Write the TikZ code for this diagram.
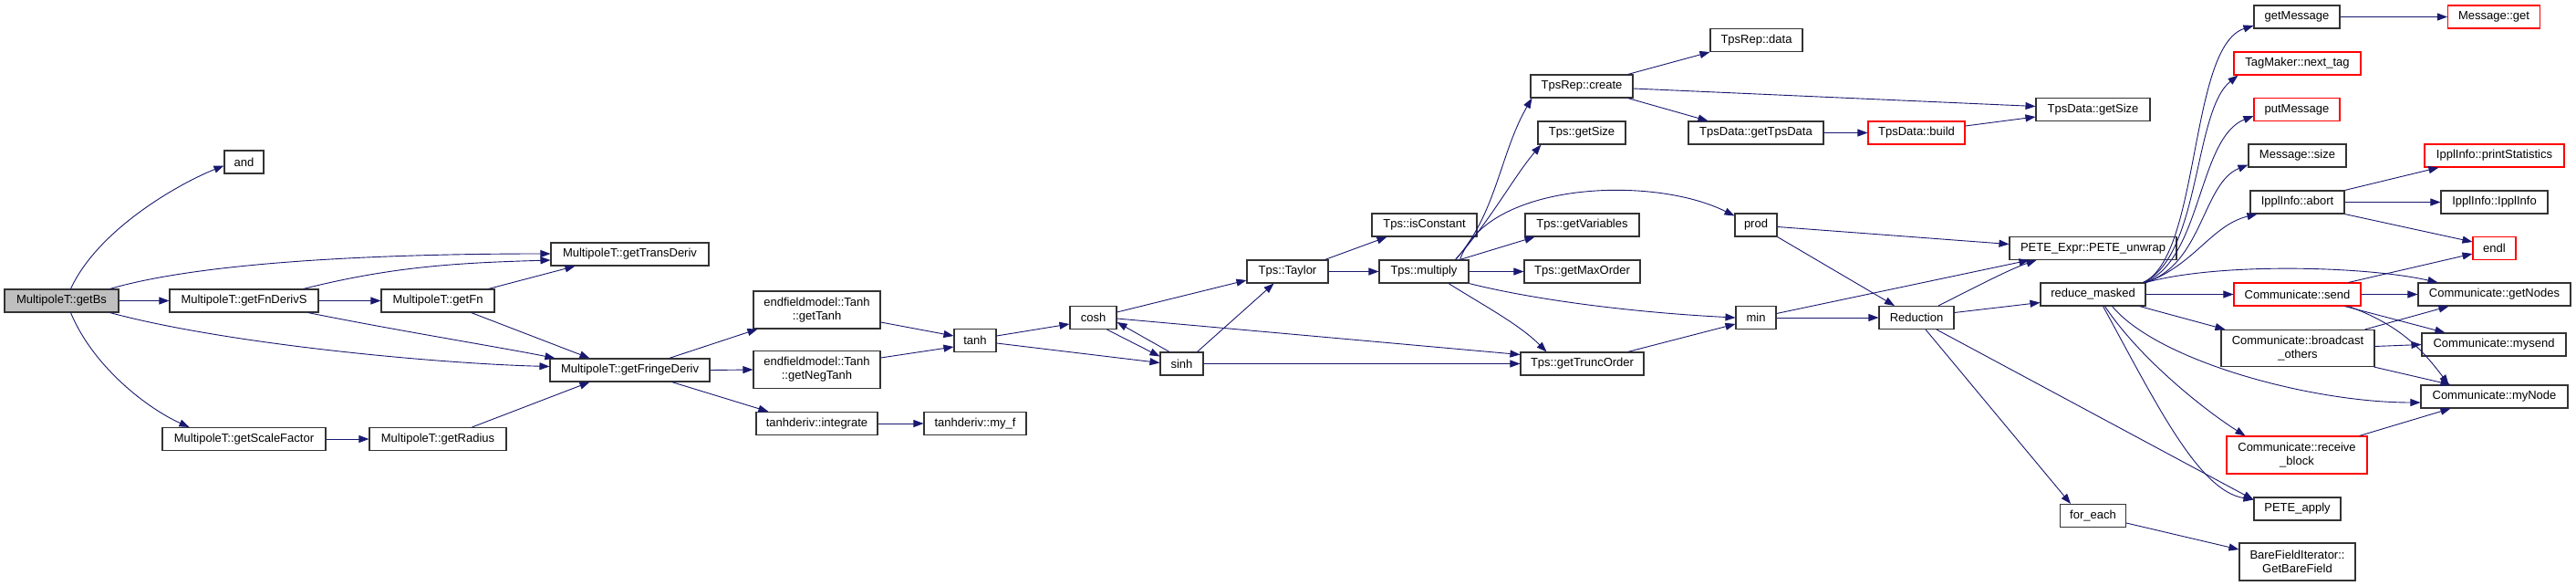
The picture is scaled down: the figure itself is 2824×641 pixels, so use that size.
\documentclass[tikz,border=0pt]{standalone}
\usepackage{fontspec}
\setmainfont{Liberation Sans}
\usetikzlibrary{arrows.meta}
\definecolor{edgec}{HTML}{191970}
\definecolor{rootfill}{HTML}{BFBFBF}
\begin{document}
\begin{tikzpicture}[x=1pt,y=1pt,
  nd/.style={draw=black!80, line width=1.1pt, fill=white, rectangle, inner sep=0pt,
    minimum height=25pt, font=\fontsize{13}{15}\selectfont, align=center},
  rednd/.style={nd, draw=red},
  tall/.style={minimum height=41pt},
  edge/.style={draw=edgec, line width=0.9pt, -{Triangle[length=11pt,width=8pt]}},
]
\fill[white] (0,0) rectangle (2824,641);
\useasboundingbox (0,0) rectangle (2824,641);

% nodes
\node[nd, fill=rootfill, minimum width=125pt] (getBs) at (67.5,311.5) {MultipoleT::getBs};
\node[nd, minimum width=43pt] (and) at (267.5,463.5) {and};
\node[nd, minimum width=163pt] (fnderivs) at (267.5,311.5) {MultipoleT::getFnDerivS};
\node[nd, minimum width=124pt] (getfn) at (480,311.5) {MultipoleT::getFn};
\node[nd, minimum width=179pt] (scalefactor) at (267.5,160) {MultipoleT::getScaleFactor};
\node[nd, minimum width=150pt] (radius) at (480,160) {MultipoleT::getRadius};
\node[nd, minimum width=173pt] (transderiv) at (690.5,362.5) {MultipoleT::getTransDeriv};
\node[nd, minimum width=175pt] (fringederiv) at (690.5,235.5) {MultipoleT::getFringeDeriv};
\node[nd, tall, minimum width=139pt] (gettanh) at (895.5,301.5) {endfieldmodel::Tanh\\::getTanh};
\node[nd, tall, minimum width=139pt] (getnegtanh) at (895.5,236) {endfieldmodel::Tanh\\::getNegTanh};
\node[nd, minimum width=133pt] (integrate) at (895.5,177) {tanhderiv::integrate};
\node[nd, minimum width=46pt] (tanh) at (1069,268) {tanh};
\node[nd, minimum width=112pt] (myf) at (1069,177) {tanhderiv::my\_f};
\node[nd, minimum width=51pt] (cosh) at (1198.5,293) {cosh};
\node[nd, minimum width=47pt] (sinh) at (1295.5,242.5) {sinh};
\node[nd, minimum width=89pt] (taylor) at (1411.5,343.5) {Tps::Taylor};
\node[nd, minimum width=115pt] (isconst) at (1561.5,394.5) {Tps::isConstant};
\node[nd, minimum width=98pt] (multiply) at (1561,343.5) {Tps::multiply};
\node[nd, minimum width=101pt] (repdata) at (1925.5,597) {TpsRep::data};
\node[nd, minimum width=112pt] (repcreate) at (1734,546.5) {TpsRep::create};
\node[nd, minimum width=96pt] (tpsgetsize) at (1734,495.5) {Tps::getSize};
\node[nd, minimum width=148pt] (gettpsdata) at (1925,495.5) {TpsData::getTpsData};
\node[rednd, minimum width=106pt] (build) at (2101,495.5) {TpsData::build};
\node[nd, minimum width=46pt] (prod) at (1925,394.5) {prod};
\node[nd, minimum width=125pt] (getvars) at (1734.5,394.5) {Tps::getVariables};
\node[nd, minimum width=127pt] (getmaxorder) at (1734.5,343.5) {Tps::getMaxOrder};
\node[nd, minimum width=44pt] (min) at (1925,293) {min};
\node[nd, minimum width=82pt] (reduction) at (2101,293) {Reduction};
\node[nd, minimum width=135pt] (gettruncorder) at (1734.5,242.5) {Tps::getTruncOrder};
\node[nd, minimum width=125pt] (tpsdatagetsize) at (2294.5,521) {TpsData::getSize};
\node[nd, minimum width=183pt] (peteunwrap) at (2294.5,369) {PETE\_Expr::PETE\_unwrap};
\node[nd, minimum width=115pt] (reducemasked) at (2294.5,318.5) {reduce\_masked};
\node[nd, minimum width=72pt] (foreach) at (2294.5,76) {for\_each};
\node[nd, minimum width=94pt] (getmessage) at (2518,622.5) {getMessage};
\node[rednd, minimum width=139pt] (nexttag) at (2518.5,571.5) {TagMaker::next\_tag};
\node[rednd, minimum width=94pt] (putmessage) at (2518,521) {putMessage};
\node[nd, minimum width=107pt] (messagesize) at (2518.5,470.5) {Message::size};
\node[nd, minimum width=103pt] (abort) at (2518.5,419.5) {IpplInfo::abort};
\node[rednd, minimum width=139pt] (send) at (2518.5,318.5) {Communicate::send};
\node[nd, tall, minimum width=168pt, minimum height=40pt] (broadcast) at (2519,259.5) {Communicate::broadcast\\\_others};
\node[rednd, tall, minimum width=154pt] (receiveblock) at (2518,142.5) {Communicate::receive\\\_block};
\node[nd, minimum width=95pt] (peteapply) at (2518.5,83.5) {PETE\_apply};
\node[nd, tall, minimum width=127pt] (getbarefield) at (2518.5,25.5) {BareFieldIterator::\\GetBareField};
\node[rednd, minimum width=101pt] (messageget) at (2734,622.5) {Message::get};
\node[rednd, minimum width=153pt] (printstats) at (2734.5,470.5) {IpplInfo::printStatistics};
\node[nd, minimum width=117pt] (ipplinfo) at (2734.5,419.5) {IpplInfo::IpplInfo};
\node[rednd, minimum width=47pt] (endl) at (2734.5,369) {endl};
\node[nd, minimum width=167pt] (getnodes) at (2734.5,318.5) {Communicate::getNodes};
\node[nd, minimum width=158pt] (mysend) at (2734,263.5) {Communicate::mysend};
\node[nd, minimum width=161pt] (mynode) at (2734.5,206.5) {Communicate::myNode};

% edges from getBs
\draw[edge] ([xshift=10pt]getBs.north) .. controls +(30,65) and +(-50,-20) .. ([yshift=-4pt]and.west);
\draw[edge] ([xshift=-10pt]getBs.north east) .. controls +(120,35) and +(-120,0) .. ([yshift=0.5pt]transderiv.west);
\draw[edge] (getBs) -- (fnderivs);
\draw[edge] ([xshift=-10pt]getBs.south east) .. controls +(130,-35) and +(-120,3) .. ([yshift=4pt]fringederiv.west);
\draw[edge] ([xshift=10pt]getBs.south) .. controls +(25,-60) and +(-45,20) .. ([xshift=-60pt]scalefactor.north);
% fnderivs
\draw[edge] ([xshift=-17pt]fnderivs.north east) .. controls +(100,25) and +(-100,-3) .. ([yshift=-6.5pt]transderiv.west);
\draw[edge] (fnderivs) -- (getfn);
\draw[edge] ([xshift=-12pt]fnderivs.south east) .. controls +(100,-20) and +(-60,12) .. ([xshift=6pt]fringederiv.north west);
% getfn, scalefactor, radius
\draw[edge] ([xshift=-7pt]getfn.north east) -- ([xshift=27pt]transderiv.south west);
\draw[edge] ([xshift=-26pt]getfn.south east) -- ([xshift=44pt]fringederiv.north west);
\draw[edge] (scalefactor) -- (radius);
\draw[edge] ([xshift=-38pt]radius.north east) -- ([xshift=44pt]fringederiv.south west);
% fringederiv
\draw[edge] ([xshift=-45pt]fringederiv.north east) -- ([xshift=5pt]gettanh.south west);
\draw[edge] (fringederiv.east) -- (getnegtanh.west);
\draw[edge] ([xshift=-42pt]fringederiv.south east) -- ([xshift=14pt]integrate.north west);
\draw[edge] ([yshift=-13.5pt]gettanh.east) -- ([yshift=5pt]tanh.west);
\draw[edge] ([yshift=13pt]getnegtanh.east) -- ([yshift=-7pt]tanh.west);
\draw[edge] (integrate) -- (myf);
% tanh, cosh, sinh
\draw[edge] ([yshift=5pt]tanh.east) -- ([yshift=-7pt]cosh.west);
\draw[edge] ([yshift=-3pt]tanh.east) -- ([yshift=1pt]sinh.west);
\draw[edge] ([xshift=-11pt]cosh.south east) -- ([yshift=8pt]sinh.west);
\draw[edge] ([xshift=-13.5pt]sinh.north) -- ([yshift=-5pt]cosh.east);
\draw[edge] ([yshift=6pt]cosh.east) -- ([yshift=-9.5pt]taylor.west);
\draw[edge] ([yshift=-1pt]cosh.east) -- ([yshift=10pt]gettruncorder.west);
\draw[edge] (sinh) -- (gettruncorder);
\draw[edge] ([xshift=17pt]sinh.north) -- ([xshift=-15pt]taylor.south);
% taylor
\draw[edge] ([xshift=-4pt]taylor.north east) -- ([xshift=17pt]isconst.south west);
\draw[edge] (taylor) -- (multiply);
% multiply
\draw[edge] ([xshift=-15pt]multiply.north east) .. controls +(45,50) and +(-35,-60) .. ([xshift=2pt]repcreate.south west);
\draw[edge] ([xshift=-15pt]multiply.north east) .. controls +(40,45) and +(-30,-35) .. ([xshift=4pt]tpsgetsize.south west);
\draw[edge] ([xshift=-10pt]multiply.north east) .. controls +(30,85) and +(-90,45) .. ([yshift=10pt]prod.west);
\draw[edge] ([xshift=-10pt]multiply.north east) -- ([xshift=11pt]getvars.south west);
\draw[edge] (multiply) -- (getmaxorder);
\draw[edge] (multiply.south east) .. controls +(80,-20) and +(-100,5) .. (min.west);
\draw[edge] ([xshift=27pt]multiply.south) .. controls +(40,-25) and +(-30,30) .. ([xshift=-39pt]gettruncorder.north);
% repcreate
\draw[edge] ([xshift=-6pt]repcreate.north east) -- (repdata.south west);
\draw[edge] ([xshift=-6pt]repcreate.south east) -- ([xshift=22pt]gettpsdata.north west);
\draw[edge] ([yshift=-2.5pt]repcreate.east) -- ([yshift=3.5pt]tpsdatagetsize.west);
\draw[edge] (gettpsdata) -- (build);
\draw[edge] ([yshift=7.5pt]build.east) -- ([yshift=-8pt]tpsdatagetsize.west);
% prod, min, truncorder
\draw[edge] ([yshift=-2pt]prod.east) -- ([yshift=4.5pt]peteunwrap.west);
\draw[edge] (prod.south east) -- ([xshift=-24pt]reduction.north);
\draw[edge] ([yshift=4.5pt]min.east) -- ([xshift=22pt]peteunwrap.south west);
\draw[edge] (min) -- (reduction);
\draw[edge] ([xshift=-18pt]gettruncorder.north east) -- ([yshift=-7pt]min.west);
% reduction
\draw[edge] ([xshift=24pt]reduction.north) .. controls +(30,15) and +(-30,-10) .. ([xshift=30pt]peteunwrap.south west);
\draw[edge] ([yshift=5.5pt]reduction.east) -- ([yshift=-9pt]reducemasked.west);
\draw[edge] ([xshift=10pt]reduction.south) -- ([xshift=-24.5pt]foreach.north);
\draw[edge] ([xshift=22pt]reduction.south) -- ([yshift=-3pt]peteapply.north west);
% reducemasked
\draw[edge] ([xshift=-3pt]reducemasked.north east) .. controls +(63,29) and +(-71,-23) .. ([yshift=-9.5pt]getmessage.west);
\draw[edge] ([xshift=-3pt]reducemasked.north east) .. controls +(63,29) and +(-49,-39) .. ([xshift=5pt]nexttag.south west);
\draw[edge] ([xshift=-2pt]reducemasked.north east) .. controls +(63,24) and +(-61,-24) .. ([yshift=-7pt]putmessage.west);
\draw[edge] ([xshift=-1pt]reducemasked.north east) .. controls +(63,19) and +(-50,-20) .. ([yshift=-10pt]messagesize.west);
\draw[edge] (reducemasked.north east) .. controls +(53,19) and +(-50,-12) .. ([xshift=8pt]abort.south west);
\draw[edge] (reducemasked.north east) .. controls +(80,22) and +(-80,18) .. ([xshift=22pt]getnodes.north west);
\draw[edge] (reducemasked) -- (send);
\draw[edge] ([xshift=-7pt]reducemasked.south east) -- ([xshift=5pt]broadcast.north west);
\draw[edge] ([xshift=21pt]reducemasked.south) .. controls +(50,-60) and +(-120,0) .. ([yshift=-6.5pt]mynode.west);
\draw[edge] ([xshift=13pt]reducemasked.south) .. controls +(40,-60) and +(-40,25) .. ([xshift=21pt]receiveblock.north west);
\draw[edge] ([xshift=11pt]reducemasked.south) .. controls +(60,-110) and +(-60,10) .. ([yshift=-3pt]peteapply.north west);
% send
\draw[edge] ([xshift=-14pt]send.north east) -- ([yshift=-6pt]endl.west);
\draw[edge] (send) -- (getnodes);
\draw[edge] ([xshift=-18pt]send.south east) -- ([xshift=26pt]mysend.north west);
\draw[edge] ([xshift=-14pt]send.south east) .. controls +(55,-20) and +(-30,40) .. ([xshift=31pt]mynode.north west);
% broadcast, receive
\draw[edge] ([xshift=-11pt]broadcast.north east) -- ([xshift=34pt]getnodes.south west);
\draw[edge] ([yshift=2pt]broadcast.east) -- (mysend.west);
\draw[edge] ([xshift=-1pt]broadcast.south east) -- ([xshift=33pt]mynode.north west);
\draw[edge] ([xshift=-9pt]receiveblock.north east) -- ([xshift=33pt]mynode.south west);
\draw[edge] ([yshift=-8pt]foreach.east) -- ([yshift=13.5pt]getbarefield.west);
% abort, getmessage
\draw[edge] (abort.north east) -- ([xshift=16pt]printstats.south west);
\draw[edge] (abort) -- (ipplinfo);
\draw[edge] (abort.south east) -- ([yshift=7pt]endl.west);
\draw[edge] (getmessage) -- (messageget);
\end{tikzpicture}
\end{document}
